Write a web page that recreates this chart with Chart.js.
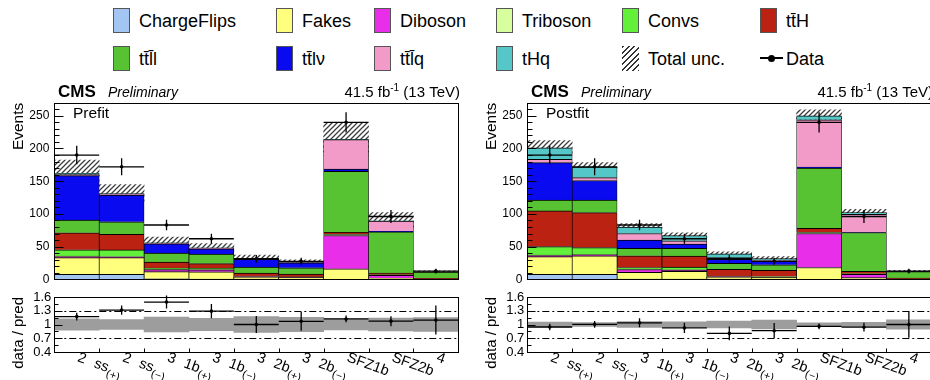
<!DOCTYPE html>
<html>
<head>
<meta charset="utf-8">
<script src="https://cdn.jsdelivr.net/npm/chart.js@4.4.0/dist/chart.umd.min.js"></script>
<style>
  html, body { margin: 0; padding: 0; width: 930px; height: 380px; overflow: hidden; background: #fff; }
  body { position: relative; font-family: "Liberation Sans", Arial, sans-serif; }
  canvas { position: absolute; left: 0; top: 0; }
  .sw { position: absolute; width: 17px; height: 25px; box-sizing: border-box; border: 1px solid #555; }
  .lt { position: absolute; font-size: 18px; line-height: 18px; color: #000; white-space: nowrap; }
</style>
</head>
<body>
<div id="legend"></div>
<canvas id="prefitTop" width="945" height="380"></canvas>
<canvas id="prefitRatio" width="945" height="380"></canvas>
<canvas id="postfitTop" width="945" height="380"></canvas>
<canvas id="postfitRatio" width="945" height="380"></canvas>
<script>
// ---- categories (x-axis bins) ----
const binNumbers = ['2', '2', '3', '3', '3', '3', '', '', '4'];
const binNames   = ['ss', 'ss', '1b', '1b', '2b', '2b', 'SFZ1b', 'SFZ2b', ''];
const binSigns   = ['(+)', '(\u2212)', '(+)', '(\u2212)', '(+)', '(\u2212)', '', '', ''];

// ---- y-axis tick labels ----
const eventTicks = [0, 50, 100, 150, 200, 250];
const ratioTicks = [0.4, 0.7, 1, 1.3, 1.6];

// ---- processes (stack order, bottom to top) ----
const processNames  = ['ChargeFlips', 'Fakes', 'Diboson', 'Triboson', 'Convs',
                       'tt\u0304H', 'tt\u0304l\u0304l', 'tt\u0304l\u03bd', 'tt\u0304l\u0304q', 'tHq'];
const processColors = ['#a2c5f2', '#ffff7d', '#e82ee8', '#d8ff9e', '#62f03a',
                       '#bb2211', '#58c332', '#0a0af0', '#f29bc8', '#55c7c9'];

// ---- prefit yields ----
const prefitChargeFlips = [7.6, 7.6, 0.7, 0.5, 0.3, 0.2, 0, 0, 0];
const prefitFakes       = [25.5, 25.5, 11, 11, 3.5, 2.5, 16, 2, 0.2];
const prefitDiboson     = [1.5, 1, 3, 3, 0.5, 0.3, 51, 4, 0.1];
const prefitTriboson    = [1, 0.8, 0.5, 0.5, 0.3, 0.3, 1.5, 0.5, 0.2];
const prefitConvs       = [9.5, 10, 2, 2, 0.5, 0.3, 0.5, 0.5, 0];
const prefitTTH         = [26, 24, 9, 7, 4.5, 4.5, 3, 2.5, 1];
const prefitTTLL        = [19.5, 19, 14, 14.5, 9, 9.5, 93, 63, 9.5];
const prefitTTLV        = [68, 41, 14, 8, 12, 7.5, 3.5, 1, 0.2];
const prefitTTLQ        = [1.5, 1, 1, 1, 0.5, 0.3, 45, 15.5, 0.2];
const prefitTHQ         = [2, 1, 0.5, 0.5, 0.4, 0.3, 0.5, 0.5, 0];
const prefitUnc         = [20, 14, 9, 6.5, 5.5, 4, 25, 12.5, 1.7];

// ---- postfit yields ----
const postfitChargeFlips = [7.7, 7.7, 0.5, 0.5, 0.3, 0.2, 0, 0, 0];
const postfitFakes       = [27, 28, 10, 11.5, 3.5, 3, 18, 2.5, 0.2];
const postfitDiboson     = [1.5, 1.5, 4.5, 2, 0.5, 0.3, 52, 5, 0.1];
const postfitTriboson    = [0.8, 0.8, 0.5, 0.5, 0.3, 0.3, 1.5, 0.5, 0.2];
const postfitConvs       = [13, 10.5, 2.5, 4, 0.5, 0.5, 0.5, 0.5, 0];
const postfitTTH         = [54.5, 53.5, 18, 17, 10, 9.5, 6, 3.5, 1.3];
const postfitTTLL        = [16.5, 19, 11.5, 12, 9.5, 8.5, 92, 59.5, 10];
const postfitTTLV        = [57.5, 30, 12.5, 6.5, 6, 5, 1.5, 0.5, 0.2];
const postfitTTLQ        = [5, 4.5, 10, 5, 2.5, 1.5, 72.5, 27.5, 0.3];
const postfitTHQ         = [17.5, 16, 10, 8, 6, 3, 6, 2.5, 0.2];
const postfitUnc         = [11, 7, 5, 4, 3, 3, 9, 5, 1.3];

// ---- observed data ----
const observed    = [190, 172, 83, 62, 31.5, 27.5, 240, 96, 12.5];
const observedErr = [14, 13, 8, 7.5, 5.8, 5.3, 15.5, 9.8, 3.6];

const prefitStack  = [prefitChargeFlips, prefitFakes, prefitDiboson, prefitTriboson, prefitConvs,
                      prefitTTH, prefitTTLL, prefitTTLV, prefitTTLQ, prefitTHQ];
const postfitStack = [postfitChargeFlips, postfitFakes, postfitDiboson, postfitTriboson, postfitConvs,
                      postfitTTH, postfitTTLL, postfitTTLV, postfitTTLQ, postfitTHQ];

const FONT = '"Liberation Sans", Arial, sans-serif';
const binLabels = binNumbers.map((n, i) => n + binNames[i] + binSigns[i]);

// geometry of the panels
const CANVAS_W = 945, CANVAS_H = 380;
const AXIS_W = 54.3, PANEL_W = 404, RIGHT_SHIFT = 473;
const TOP_Y0 = 102.7, TOP_Y1 = 279.3;
const RAT_Y0 = 297, RAT_Y1 = 352;

// diagonal hatch used for the total uncertainty
function makeHatch() {
  const s = 5;
  const c = document.createElement('canvas');
  c.width = s; c.height = s;
  const g = c.getContext('2d');
  g.strokeStyle = '#3c3c3c';
  g.lineWidth = 1.25;
  g.beginPath();
  g.moveTo(0, s); g.lineTo(s, 0);
  g.moveTo(-1, 1); g.lineTo(1, -1);
  g.moveTo(s - 1, s + 1); g.lineTo(s + 1, s - 1);
  g.stroke();
  return g.createPattern(c, 'repeat');
}
const hatch = makeHatch();

// ---- legend ----
(function buildLegend() {
  const leg = document.getElementById('legend');
  const cols = [113, 276, 374, 496, 622, 760];
  const rows = [8, 46];
  const items = processNames.map((n, i) => ({ name: n, color: processColors[i] }));
  items.push({ name: 'Total unc.', hatch: true });
  items.push({ name: 'Data', data: true });
  items.forEach((it, k) => {
    const x = cols[k % 6], y = rows[Math.floor(k / 6)];
    if (it.data) {
      const ln = document.createElement('div');
      ln.style.cssText = `position:absolute;left:${x}px;top:${y + 11}px;width:23px;height:2px;background:#000;`;
      leg.appendChild(ln);
      const dot = document.createElement('div');
      dot.style.cssText = `position:absolute;left:${x + 8}px;top:${y + 8.5}px;width:7px;height:7px;border-radius:50%;background:#000;`;
      leg.appendChild(dot);
    } else {
      const sw = document.createElement('div');
      sw.className = 'sw';
      sw.style.left = x + 'px';
      sw.style.top = y + 'px';
      if (it.hatch) {
        sw.style.border = 'none';
        sw.style.background = 'repeating-linear-gradient(-45deg, #333 0 1.3px, transparent 1.3px 4px)';
      } else {
        sw.style.background = it.color;
      }
      leg.appendChild(sw);
    }
    const t = document.createElement('div');
    t.className = 'lt';
    t.textContent = it.name;
    t.style.left = (x + 26) + 'px';
    t.style.top = (y + 4) + 'px';
    leg.appendChild(t);
  });
})();

// ---- plugins ----
// frame box with inward ticks, ROOT style
const rootFrame = {
  id: 'rootFrame',
  afterDraw(chart, args, o) {
    const { ctx, chartArea: a } = chart;
    const ys = chart.scales.y, xs = chart.scales.x;
    ctx.save();
    ctx.strokeStyle = '#000';
    ctx.lineWidth = 1;
    const L = Math.round(a.left) + 0.5, R = Math.round(a.right) + 0.5;
    const T = Math.round(a.top) + 0.5, B = Math.round(a.bottom) + 0.5;
    ctx.beginPath();
    for (let k = 0; ; k++) {
      const v = o.start + k * o.minor;
      if (v > o.end + 1e-9) break;
      const y = Math.round(ys.getPixelForValue(v)) + 0.5;
      const len = (k % o.majorEvery === 0) ? o.majorLen : o.minorLen;
      ctx.moveTo(L, y); ctx.lineTo(L + len, y);
    }
    if (o.xTicks) {
      for (let i = 1; i < binLabels.length; i++) {
        const x = Math.round((xs.getPixelForValue(i - 1) + xs.getPixelForValue(i)) / 2) + 0.5;
        ctx.moveTo(x, B); ctx.lineTo(x, B - o.xTickLen);
      }
    }
    ctx.stroke();
    ctx.strokeRect(L, T, R - L, B - T);
    ctx.restore();
  }
};

// data points with horizontal bin-width bars and vertical error bars
const histData = {
  id: 'histData',
  afterDatasetsDraw(chart, args, o) {
    const { ctx } = chart;
    const ys = chart.scales.y, xs = chart.scales.x;
    ctx.save();
    if (o.refLines) {
      ctx.strokeStyle = '#000';
      ctx.lineWidth = 1;
      ctx.setLineDash([7, 3, 2, 3]);
      o.refLines.forEach(v => {
        const y = Math.round(ys.getPixelForValue(v)) + 0.5;
        ctx.beginPath();
        ctx.moveTo(chart.chartArea.left, y); ctx.lineTo(chart.chartArea.right, y);
        ctx.stroke();
      });
      ctx.setLineDash([]);
    }
    const half = (xs.getPixelForValue(1) - xs.getPixelForValue(0)) / 2;
    ctx.strokeStyle = '#000';
    ctx.fillStyle = '#000';
    ctx.lineWidth = 1.3;
    o.values.forEach((v, i) => {
      const xc = xs.getPixelForValue(i);
      const y = ys.getPixelForValue(v);
      const y1 = ys.getPixelForValue(v - o.errors[i]);
      const y2 = ys.getPixelForValue(v + o.errors[i]);
      ctx.beginPath();
      ctx.moveTo(xc - half, y); ctx.lineTo(xc + half, y);
      ctx.moveTo(xc, y1); ctx.lineTo(xc, y2);
      ctx.stroke();
      ctx.beginPath();
      ctx.arc(xc, y, 1.8, 0, Math.PI * 2);
      ctx.fill();
    });
    ctx.restore();
  }
};

// free text: titles, axis titles, bin labels
const rootText = {
  id: 'rootText',
  afterDraw(chart, args, o) {
    const { ctx } = chart;
    ctx.save();
    ctx.fillStyle = '#000';
    ctx.textBaseline = 'alphabetic';
    (o.items || []).forEach(it => {
      ctx.save();
      ctx.translate(it.x, it.y);
      if (it.rotate) ctx.rotate(it.rotate);
      const runs = it.runs || [{ t: it.text, font: it.font, dy: 0 }];
      let total = 0;
      runs.forEach(r => { ctx.font = r.font; total += ctx.measureText(r.t).width; });
      let x = it.align === 'right' ? -total : 0;
      runs.forEach(r => {
        ctx.font = r.font;
        ctx.textAlign = 'left';
        ctx.fillText(r.t, x, r.dy || 0);
        x += ctx.measureText(r.t).width;
      });
      ctx.restore();
    });
    if (o.binLabels) {
      const xs = chart.scales.x;
      const ang = 20 * Math.PI / 180;
      binLabels.forEach((_, i) => {
        ctx.save();
        ctx.translate(xs.getPixelForValue(i), o.binLabelY);
        ctx.rotate(ang);
        let x = 0;
        ctx.font = `14.5px ${FONT}`;
        if (binNumbers[i]) {
          ctx.fillText(binNumbers[i], 0, 0);
          x = ctx.measureText(binNumbers[i]).width + 9.5;
        }
        if (binNames[i]) {
          ctx.fillText(binNames[i], x, 0);
          x += ctx.measureText(binNames[i]).width;
        }
        if (binSigns[i]) {
          ctx.font = `11px ${FONT}`;
          ctx.fillText(binSigns[i], x, 4.5);
        }
        ctx.restore();
      });
    }
    ctx.restore();
  }
};

function layoutPadding(shift, y0, y1) {
  return {
    left: shift,
    right: CANVAS_W - (shift + AXIS_W + PANEL_W),
    top: y0,
    bottom: CANVAS_H - y1
  };
}

function panelTexts(shift, tag) {
  return [
    { x: 58 + shift, y: 97, text: 'CMS', font: `bold 17px ${FONT}` },
    { x: 108 + shift, y: 97, text: 'Preliminary', font: `italic 14px ${FONT}` },
    { x: 460 + shift, y: 97, align: 'right', runs: [
      { t: '41.5 fb', font: `15px ${FONT}` },
      { t: '-1', font: `10px ${FONT}`, dy: -6 },
      { t: ' (13 TeV)', font: `15px ${FONT}` }
    ] },
    { x: 73 + shift, y: 118, text: tag, font: `15.5px ${FONT}` },
    { x: 23 + shift, y: TOP_Y0, rotate: -Math.PI / 2, align: 'right', text: 'Events', font: `15.5px ${FONT}` }
  ];
}

function stackedChart(id, stack, unc, shift, tag) {
  const totals = binLabels.map((_, i) => stack.reduce((s, a) => s + a[i], 0));
  let base = binLabels.map(() => 0);
  const datasets = stack.map((arr, k) => {
    const data = arr.map((v, i) => [base[i], base[i] + v]);
    base = base.map((b, i) => b + arr[i]);
    return {
      label: processNames[k], data,
      backgroundColor: processColors[k], borderColor: '#000',
      borderWidth: { top: 1, left: 0.7, right: 0.7, bottom: 0 }, borderSkipped: false,
      grouped: false, categoryPercentage: 1, barPercentage: 1
    };
  });
  datasets.push({
    label: 'Total unc.',
    data: totals.map((t, i) => [t - unc[i], t + unc[i]]),
    backgroundColor: hatch, borderWidth: 0,
    grouped: false, categoryPercentage: 1, barPercentage: 1
  });
  return new Chart(document.getElementById(id), {
    type: 'bar',
    data: { labels: binLabels, datasets },
    plugins: [rootFrame, histData, rootText],
    options: {
      responsive: false, animation: false, events: [],
      layout: { padding: layoutPadding(shift, TOP_Y0, TOP_Y1), autoPadding: false },
      plugins: {
        legend: { display: false }, tooltip: { enabled: false },
        rootFrame: { start: 0, end: 270, minor: 10, majorEvery: 5, majorLen: 9, minorLen: 5, xTicks: false },
        histData: { values: observed, errors: observedErr },
        rootText: { items: panelTexts(shift, tag) }
      },
      scales: {
        x: { type: 'category', offset: true, display: false, grid: { display: false } },
        y: {
          min: 0, max: 270,
          afterFit(s) { s.width = AXIS_W; },
          afterBuildTicks(s) { s.ticks = eventTicks.map(v => ({ value: v })); },
          grid: { display: false, drawTicks: false }, border: { display: false },
          ticks: { autoSkip: false, color: '#000', padding: 5, font: { family: FONT, size: 12 } }
        }
      }
    }
  });
}

function ratioChart(id, stack, unc, shift) {
  const totals = binLabels.map((_, i) => stack.reduce((s, a) => s + a[i], 0));
  const ratio = observed.map((d, i) => d / totals[i]);
  const ratioErr = observedErr.map((e, i) => e / totals[i]);
  const relUnc = unc.map((u, i) => u / totals[i]);
  return new Chart(document.getElementById(id), {
    type: 'bar',
    data: {
      labels: binLabels,
      datasets: [{
        label: 'Total unc.',
        data: relUnc.map(r => [1 - r, 1 + r]),
        backgroundColor: '#9d9d9d', borderWidth: 0,
        grouped: false, categoryPercentage: 1, barPercentage: 1
      }]
    },
    plugins: [rootFrame, histData, rootText],
    options: {
      responsive: false, animation: false, events: [],
      layout: { padding: layoutPadding(shift, RAT_Y0, RAT_Y1), autoPadding: false },
      plugins: {
        legend: { display: false }, tooltip: { enabled: false },
        rootFrame: { start: 0.4, end: 1.6, minor: 0.15, majorEvery: 2, majorLen: 8, minorLen: 4, xTicks: true, xTickLen: 4 },
        histData: { values: ratio, errors: ratioErr, refLines: [1.3, 0.7] },
        rootText: {
          items: [{ x: 23 + shift, y: RAT_Y0, rotate: -Math.PI / 2, align: 'right', text: 'data / pred', font: `15px ${FONT}` }],
          binLabels: true, binLabelY: 361
        }
      },
      scales: {
        x: { type: 'category', offset: true, display: false, grid: { display: false } },
        y: {
          min: 0.4, max: 1.6,
          afterFit(s) { s.width = AXIS_W; },
          afterBuildTicks(s) { s.ticks = ratioTicks.map(v => ({ value: v })); },
          grid: { display: false, drawTicks: false }, border: { display: false },
          ticks: { autoSkip: false, color: '#000', padding: 3, font: { family: FONT, size: 13 },
                   callback: v => String(v) }
        }
      }
    }
  });
}

stackedChart('prefitTop', prefitStack, prefitUnc, 0, 'Prefit');
ratioChart('prefitRatio', prefitStack, prefitUnc, 0);
stackedChart('postfitTop', postfitStack, postfitUnc, RIGHT_SHIFT, 'Postfit');
ratioChart('postfitRatio', postfitStack, postfitUnc, RIGHT_SHIFT);
</script>
</body>
</html>
